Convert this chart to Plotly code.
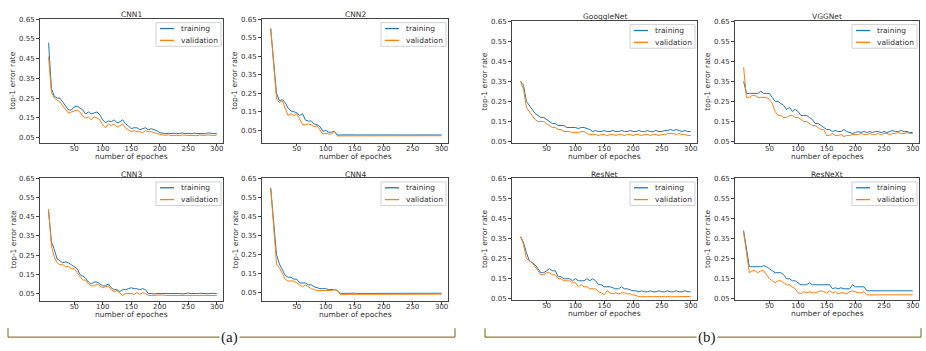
import plotly.graph_objects as go

W, H = 926, 351

epochs = list(range(5, 301, 5))

titles = ["CNN1", "CNN2", "CNN3", "CNN4", "GooggleNet", "VGGNet", "ResNet", "ResNeXt"]
series_names = ["training", "validation"]

cnn1_train = [0.53,0.30,0.26,0.25,0.25,0.23,0.215,0.19,0.19,0.205,
              0.21,0.20,0.19,0.17,0.18,0.17,0.175,0.18,0.165,0.14,
              0.125,0.135,0.13,0.14,0.125,0.13,0.14,0.12,0.11,0.095,
              0.10,0.10,0.09,0.095,0.10,0.09,0.095,0.09,0.085,0.075,
              0.072,0.07,0.072,0.07,0.073,0.07,0.071,0.074,0.07,0.072,
              0.07,0.073,0.071,0.07,0.072,0.07,0.074,0.071,0.07,0.072]
cnn1_val = [0.46,0.28,0.25,0.24,0.23,0.21,0.19,0.175,0.18,0.185,
            0.19,0.18,0.16,0.15,0.155,0.14,0.155,0.15,0.14,0.115,
            0.10,0.12,0.11,0.12,0.105,0.11,0.12,0.10,0.09,0.08,
            0.085,0.08,0.08,0.075,0.085,0.08,0.08,0.075,0.07,0.065,
            0.063,0.062,0.064,0.061,0.063,0.062,0.06,0.064,0.062,0.061,
            0.063,0.062,0.06,0.063,0.062,0.061,0.064,0.062,0.06,0.063]
cnn2_train = [0.60,0.40,0.25,0.21,0.215,0.20,0.17,0.155,0.15,0.145,
              0.13,0.14,0.105,0.10,0.10,0.085,0.08,0.07,0.045,0.05,
              0.04,0.04,0.045,0.025,0.025,0.026,0.025,0.025,0.026,0.025,
              0.025,0.026,0.025,0.025,0.027,0.025,0.025,0.026,0.025,0.025,
              0.026,0.025,0.025,0.027,0.025,0.025,0.026,0.025,0.025,0.026,
              0.025,0.025,0.026,0.025,0.027,0.025,0.025,0.026,0.025,0.025]
cnn2_val = [0.60,0.40,0.22,0.20,0.21,0.17,0.13,0.14,0.13,0.14,
            0.11,0.08,0.08,0.085,0.08,0.07,0.075,0.05,0.03,0.035,
            0.03,0.03,0.045,0.02,0.02,0.021,0.02,0.02,0.02,0.021,
            0.02,0.02,0.021,0.02,0.02,0.02,0.021,0.02,0.02,0.021,
            0.02,0.02,0.021,0.02,0.02,0.02,0.021,0.02,0.02,0.021,
            0.02,0.02,0.021,0.02,0.02,0.021,0.02,0.02,0.02,0.021]
cnn3_train = [0.48,0.32,0.28,0.23,0.22,0.21,0.215,0.21,0.20,0.19,
              0.18,0.15,0.14,0.13,0.11,0.10,0.11,0.11,0.10,0.09,
              0.09,0.10,0.08,0.07,0.07,0.06,0.07,0.07,0.075,0.08,
              0.075,0.075,0.07,0.075,0.07,0.05,0.05,0.048,0.05,0.05,
              0.052,0.05,0.049,0.05,0.051,0.05,0.05,0.048,0.05,0.052,
              0.05,0.049,0.05,0.051,0.05,0.05,0.049,0.051,0.05,0.05]
cnn3_val = [0.49,0.30,0.24,0.21,0.20,0.20,0.19,0.19,0.18,0.18,
            0.16,0.14,0.12,0.12,0.10,0.09,0.09,0.10,0.09,0.08,
            0.085,0.09,0.07,0.06,0.065,0.05,0.04,0.05,0.05,0.05,
            0.045,0.055,0.045,0.055,0.05,0.04,0.04,0.041,0.04,0.04,
            0.042,0.04,0.04,0.041,0.04,0.039,0.04,0.042,0.04,0.04,
            0.041,0.04,0.04,0.042,0.04,0.04,0.041,0.04,0.039,0.04]
cnn4_train = [0.60,0.40,0.25,0.20,0.17,0.14,0.13,0.13,0.12,0.12,
              0.10,0.10,0.10,0.09,0.09,0.08,0.075,0.07,0.07,0.07,
              0.065,0.065,0.065,0.06,0.045,0.045,0.046,0.045,0.045,0.046,
              0.045,0.045,0.046,0.045,0.045,0.047,0.045,0.045,0.046,0.045,
              0.045,0.046,0.045,0.045,0.047,0.045,0.045,0.046,0.045,0.045,
              0.046,0.045,0.045,0.047,0.045,0.045,0.046,0.045,0.045,0.046]
cnn4_val = [0.60,0.38,0.20,0.18,0.15,0.12,0.11,0.11,0.11,0.10,
            0.09,0.08,0.09,0.08,0.07,0.065,0.06,0.06,0.06,0.06,
            0.06,0.06,0.065,0.06,0.04,0.04,0.041,0.04,0.04,0.041,
            0.04,0.04,0.041,0.04,0.04,0.041,0.04,0.04,0.041,0.04,
            0.04,0.041,0.04,0.04,0.041,0.04,0.04,0.041,0.04,0.04,
            0.041,0.04,0.04,0.041,0.04,0.04,0.041,0.04,0.04,0.041]
goog_train = [0.35,0.33,0.25,0.23,0.21,0.19,0.18,0.17,0.17,0.16,
              0.15,0.14,0.14,0.13,0.13,0.13,0.12,0.12,0.12,0.12,
              0.115,0.12,0.12,0.115,0.11,0.10,0.105,0.10,0.10,0.105,
              0.10,0.10,0.105,0.10,0.10,0.105,0.10,0.10,0.105,0.10,
              0.10,0.105,0.10,0.10,0.105,0.10,0.10,0.105,0.10,0.10,
              0.105,0.105,0.11,0.105,0.11,0.105,0.10,0.105,0.10,0.10]
goog_val = [0.35,0.31,0.22,0.20,0.18,0.16,0.15,0.15,0.15,0.14,
            0.13,0.12,0.12,0.11,0.11,0.10,0.10,0.10,0.095,0.095,
            0.095,0.10,0.10,0.09,0.085,0.085,0.085,0.08,0.085,0.085,
            0.08,0.085,0.085,0.08,0.085,0.085,0.08,0.085,0.085,0.08,
            0.085,0.085,0.08,0.085,0.085,0.08,0.085,0.085,0.08,0.085,
            0.085,0.09,0.09,0.09,0.085,0.09,0.085,0.085,0.08,0.08]
vgg_train = [0.35,0.29,0.29,0.29,0.29,0.29,0.30,0.29,0.29,0.29,
             0.27,0.25,0.25,0.24,0.23,0.21,0.22,0.20,0.21,0.20,
             0.18,0.18,0.18,0.17,0.16,0.14,0.14,0.13,0.12,0.11,
             0.11,0.10,0.105,0.10,0.10,0.11,0.10,0.095,0.09,0.095,
             0.10,0.095,0.10,0.095,0.10,0.095,0.10,0.10,0.095,0.10,
             0.095,0.10,0.105,0.10,0.10,0.105,0.10,0.10,0.095,0.095]
vgg_val = [0.42,0.27,0.27,0.28,0.28,0.27,0.27,0.27,0.27,0.26,
           0.24,0.20,0.18,0.18,0.17,0.17,0.18,0.18,0.17,0.17,
           0.16,0.15,0.15,0.14,0.13,0.13,0.12,0.11,0.11,0.08,
           0.08,0.09,0.08,0.08,0.085,0.075,0.08,0.08,0.085,0.085,
           0.085,0.09,0.085,0.085,0.09,0.085,0.085,0.09,0.085,0.09,
           0.09,0.085,0.09,0.09,0.095,0.09,0.09,0.095,0.09,0.09]
res_train = [0.36,0.33,0.28,0.24,0.23,0.22,0.20,0.18,0.18,0.19,
             0.20,0.19,0.19,0.16,0.16,0.15,0.15,0.15,0.14,0.15,
             0.14,0.14,0.14,0.15,0.14,0.15,0.14,0.12,0.12,0.11,
             0.11,0.11,0.105,0.10,0.10,0.11,0.10,0.10,0.095,0.09,
             0.09,0.085,0.09,0.085,0.085,0.09,0.085,0.085,0.09,0.085,
             0.085,0.09,0.085,0.085,0.09,0.085,0.085,0.09,0.085,0.085]
res_val = [0.36,0.32,0.25,0.24,0.23,0.21,0.19,0.17,0.17,0.18,
           0.18,0.17,0.17,0.15,0.15,0.14,0.14,0.14,0.13,0.13,
           0.11,0.12,0.11,0.11,0.10,0.10,0.10,0.085,0.08,0.07,
           0.09,0.08,0.075,0.08,0.075,0.08,0.08,0.075,0.075,0.07,
           0.065,0.062,0.06,0.062,0.06,0.062,0.06,0.062,0.06,0.062,
           0.06,0.062,0.06,0.06,0.062,0.06,0.062,0.06,0.062,0.062]
resx_train = [0.39,0.30,0.21,0.21,0.21,0.21,0.21,0.215,0.21,0.20,
              0.19,0.18,0.18,0.18,0.17,0.15,0.15,0.14,0.14,0.13,
              0.12,0.12,0.12,0.13,0.12,0.12,0.12,0.12,0.12,0.12,
              0.12,0.10,0.105,0.10,0.105,0.10,0.10,0.10,0.12,0.11,
              0.11,0.11,0.11,0.09,0.09,0.09,0.091,0.09,0.09,0.091,
              0.09,0.09,0.091,0.09,0.09,0.091,0.09,0.09,0.091,0.09]
resx_val = [0.38,0.28,0.18,0.19,0.19,0.18,0.19,0.19,0.17,0.15,
            0.14,0.13,0.14,0.14,0.13,0.12,0.12,0.11,0.10,0.08,
            0.075,0.085,0.08,0.085,0.08,0.08,0.085,0.09,0.085,0.08,
            0.09,0.08,0.085,0.075,0.08,0.08,0.075,0.085,0.09,0.085,
            0.08,0.08,0.085,0.07,0.07,0.07,0.071,0.07,0.07,0.071,
            0.07,0.07,0.071,0.07,0.07,0.071,0.07,0.07,0.071,0.07]

train_series = [cnn1_train, cnn2_train, cnn3_train, cnn4_train,
                goog_train, vgg_train, res_train, resx_train]
val_series = [cnn1_val, cnn2_val, cnn3_val, cnn4_val,
              goog_val, vgg_val, res_val, resx_val]

y_ticks = [0.05, 0.15, 0.25, 0.35, 0.45, 0.55, 0.65]
x_ticks = [50, 100, 150, 200, 250, 300]

COL_T = "#1f77b4"
COL_V = "#ff7f0e"
TXT = "#333333"
FONT = "DejaVu Sans"

# panel boxes in pixels: (left, right, top, bottom)
boxes = [(40, 223, 16, 142), (262, 448, 16, 142),
         (40, 223, 178, 303), (262, 448, 178, 303),
         (512, 697, 18, 142), (735, 919, 18, 142),
         (512, 697, 178, 302), (735, 919, 178, 302)]
y_lows = [0.025, -0.016, 0.012, 0.006, 0.045, 0.045, 0.045, 0.045]


def px(x):
    return x / W


def py(y):
    return 1 - y / H


fig = go.Figure()
annotations = []
shapes = []
layout_axes = {}
for i in range(8):
    n = i + 1
    sfx = "" if n == 1 else str(n)
    l, r, t, b = boxes[i]
    fig.add_trace(go.Scatter(x=epochs, y=train_series[i], mode="lines", name=series_names[0],
                             line=dict(color=COL_T, width=1.0), showlegend=False,
                             xaxis=f"x{sfx}", yaxis=f"y{sfx}"))
    fig.add_trace(go.Scatter(x=epochs, y=val_series[i], mode="lines", name=series_names[1],
                             line=dict(color=COL_V, width=1.0), showlegend=False,
                             xaxis=f"x{sfx}", yaxis=f"y{sfx}"))
    common = dict(showline=True, mirror=True, linecolor="#444", linewidth=0.8,
                  showgrid=False, zeroline=False, ticks="outside", ticklen=3,
                  tickcolor="#444", tickfont=dict(family=FONT, size=7, color=TXT))
    layout_axes[f"xaxis{sfx}"] = dict(domain=[px(l), px(r)], range=[-10, 311], tickvals=x_ticks,
                                      anchor=f"y{sfx}", ticklabelstandoff=-4, **common)
    layout_axes[f"yaxis{sfx}"] = dict(domain=[py(b), py(t)], range=[y_lows[i], 0.652],
                                      tickvals=y_ticks, tickformat=".2f",
                                      anchor=f"x{sfx}", **common)
    # panel title
    annotations.append(dict(text=titles[i], x=px((l + r) / 2), y=py(t - 4),
                            xref="paper", yref="paper", xanchor="center", yanchor="middle",
                            showarrow=False, font=dict(family=FONT, size=7.5, color=TXT)))
    # axis titles
    annotations.append(dict(text="number of epoches", x=px((l + r) / 2), y=py(b + 14),
                            xref="paper", yref="paper", xanchor="center", yanchor="middle",
                            showarrow=False, font=dict(family=FONT, size=7.5, color=TXT)))
    annotations.append(dict(text="top-1 error rate", x=px(l - 27), y=py((t + b) / 2),
                            xref="paper", yref="paper", xanchor="center", yanchor="middle",
                            textangle=-90, showarrow=False,
                            font=dict(family=FONT, size=7.5, color=TXT)))
    # legend box
    shapes.append(dict(type="rect", xref="paper", yref="paper",
                       x0=px(r - 67), x1=px(r - 2), y0=py(t + 4), y1=py(t + 28),
                       line=dict(color="#d0d0d0", width=1), fillcolor="white", layer="above"))
    for k, (nm, col) in enumerate(zip(series_names, [COL_T, COL_V])):
        yy = t + 10 + 12 * k
        shapes.append(dict(type="line", xref="paper", yref="paper",
                           x0=px(r - 63), x1=px(r - 49), y0=py(yy), y1=py(yy),
                           line=dict(color=col, width=1.3), layer="above"))
        annotations.append(dict(text=nm, x=px(r - 44), y=py(yy), xref="paper", yref="paper",
                                xanchor="left", yanchor="middle", showarrow=False,
                                font=dict(family=FONT, size=7.5, color=TXT)))

bracket_color = "#8f7a3e"
for (x0, x1, lx, lab) in [(8, 455, 229, "(a)"), (485, 921, 707, "(b)")]:
    yl = py(340)
    yt = py(331)
    shapes.append(dict(type="line", xref="paper", yref="paper", x0=px(x0), x1=px(x1),
                       y0=yl, y1=yl, line=dict(color=bracket_color, width=1.2)))
    shapes.append(dict(type="line", xref="paper", yref="paper", x0=px(x0), x1=px(x0),
                       y0=yl, y1=yt, line=dict(color=bracket_color, width=1.2)))
    shapes.append(dict(type="line", xref="paper", yref="paper", x0=px(x1), x1=px(x1),
                       y0=yl, y1=yt, line=dict(color=bracket_color, width=1.2)))
    annotations.append(dict(text=lab, x=px(lx), y=yl, xref="paper", yref="paper",
                            xanchor="center", yanchor="middle", showarrow=False,
                            bgcolor="white", borderpad=1,
                            font=dict(family="Liberation Serif", size=15, color="#222")))

fig.update_layout(width=W, height=H, margin=dict(l=0, r=0, t=0, b=0),
                  paper_bgcolor="white", plot_bgcolor="white",
                  showlegend=False, annotations=annotations, shapes=shapes,
                  **layout_axes)

fig.write_html("out.html", config={"displayModeBar": False},
               post_script="document.body.style.margin='0';")
